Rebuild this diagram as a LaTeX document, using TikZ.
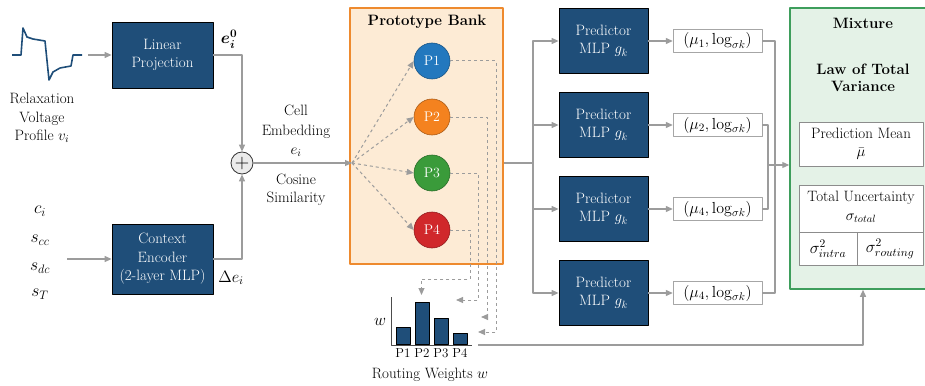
\documentclass[tikz,border=0pt]{standalone}
\usepackage{fix-cm}
\usepackage{amsmath}
\usetikzlibrary{arrows.meta, positioning}

\definecolor{boxblue}{HTML}{1F4E79}
\definecolor{linegray}{HTML}{9C9C9C}
\definecolor{bankfill}{HTML}{FDEBD5}
\definecolor{bankline}{HTML}{EE8A2E}
\definecolor{mixfill}{HTML}{E4F2E7}
\definecolor{mixline}{HTML}{3E9E5C}
\definecolor{pblue}{HTML}{2378BE}
\definecolor{porange}{HTML}{F4821F}
\definecolor{pgreen}{HTML}{3A9B3A}
\definecolor{pred}{HTML}{D0282B}

\begin{document}
\begin{tikzpicture}[x=1pt, y=-1pt, line join=round,
  font=\fontsize{15}{18.5}\selectfont,
  >={Triangle[length=7pt,width=6pt]},
  flow/.style={draw=linegray, line width=1.2pt},
  routing/.style={draw=linegray, line width=1pt, dashed},
  darkbox/.style={draw=black, fill=boxblue, text=white, line width=0.8pt,
    align=center, minimum width=89pt, minimum height=65pt, inner sep=2pt},
  outbox/.style={draw=black!35, fill=white, minimum width=89pt,
    minimum height=23pt, inner sep=1pt, font=\fontsize{16}{18}\selectfont},
  cellbox/.style={draw=black!45, fill=white, align=center, inner sep=1pt},
  mathlbl/.style={font=\fontsize{16.5}{19}\selectfont},
  proto/.style={circle, minimum size=36pt, inner sep=0pt, text=white,
    line width=0.6pt, font=\fontsize{14}{16}\selectfont},
  title/.style={font=\fontsize{15}{17.5}\selectfont\bfseries, align=center}]

  \useasboundingbox (0,0) rectangle (925,385);

  % voltage profile
  \draw[boxblue, line width=1.6pt] plot coordinates {(12,55) (21,55) (23,28)
    (27,37) (33,39) (45,41) (49,80) (53,72) (60,68) (71,66) (73,55) (82,55)};
  \node[align=center] (profile) at (42,118) {Relaxation\\Voltage\\Profile $v_i$};
  \coordinate (wave) at (88,55);

  % encoders
  \node[darkbox, minimum width=101pt, minimum height=66pt] (proj) at (162.5,55) {Linear\\Projection};
  \node[darkbox, minimum width=101pt, minimum height=70pt] (ctx) at (162.5,259) {Context\\Encoder\\(2-layer MLP)};
  \foreach \n/\t/\y in {c/c_i/211, cc/s_{cc}/240, dc/s_{dc}/268, T/s_T/294}
    \node[font=\fontsize{17.5}{19}\selectfont] (in\n) at (40,\y) {$\t$};
  \coordinate (ctxin) at (67,259);
  \draw[flow,->] (wave) -- (proj.west);
  \draw[flow,->] (ctxin) -- (ctx.west);

  % sum
  \node[circle, draw=black!80, fill=black!8, minimum size=22pt, inner sep=0pt,
    line width=0.8pt] (plus) at (242,163) {\fontsize{20}{20}\selectfont$+$};
  \draw[flow,->] (proj.east) -| (plus.north);
  \draw[flow,->] (ctx.east) -| (plus.south);
  \node[mathlbl] (e0) at (229,39) {$\boldsymbol{e_i^0}$};
  \node[mathlbl] (de) at (231,278) {$\Delta e_i$};
  \node[align=center] (cell) at (296,131) {Cell\\[1pt]Embedding\\[1pt]$e_i$};
  \node[align=center] (cosine) at (296,190) {Cosine\\Similarity};

  % prototype bank
  \node[draw=bankline, fill=bankfill, line width=1.5pt, minimum width=153pt,
    minimum height=256pt] (bank) at (426.5,136) {};
  \node[title] (banktitle) at (427,22) {Prototype Bank};
  \coordinate (sim) at (352,163);
  \draw[flow,->] (plus.east) -- (sim);
  \foreach \i/\c/\y in {1/pblue/61, 2/porange/117, 3/pgreen/173, 4/pred/230} {
    \node[proto, fill=\c, draw=\c!70!black] (p\i) at (432,\y) {P\i};
    \draw[routing,->] (sim) -- (p\i.west);
  }

  % routing weights
  \draw[black!70, line width=0.8pt] (391,297) -- (391,345) -- (472,345);
  \foreach \i/\h in {1/17, 2/42, 3/26, 4/11} {
    \node[draw=black, fill=boxblue, minimum width=14pt, minimum height=\h pt,
      inner sep=0pt, anchor=south, line width=0.6pt] (bar\i) at ({384+19*\i},345) {};
    \node[below=2pt of bar\i.south, font=\fontsize{13}{15}\selectfont, inner sep=1pt] (lbl\i) {P\i};
  }
  \node[mathlbl] (waxis) at (380,322) {$w$};
  \node (routw) at (430,375) {Routing Weights $w$};
  \coordinate (tip1) at (478,332);
  \coordinate (tip2) at (481,317);
  \coordinate (tip3) at (456,300);
  \coordinate (tip4) at (421.5,295);
  \draw[routing,->] (p1.east) -- ++(46,0) |- (tip1);
  \draw[routing,->] (p2.east) -- ++(37,0) |- (tip2);
  \draw[routing,->] (p3.east) -- ++(28,0) |- (tip3);
  \draw[routing,->] (p4.east) -- ++(20,0) -- ++(0,49) -| (tip4);

  % predictors
  \coordinate (trunk) at (533,163);
  \draw[flow] (bank.east |- sim) -- (trunk);
  \foreach \k/\y/\m in {1/41/1, 2/125/2, 3/209/4, 4/293/4} {
    \node[darkbox] (pred\k) at (603.5,\y) {Predictor\\MLP $g_k$};
    \node[outbox] (out\k) at (717.5,\y) {$(\mu_{\m}, \log_{\sigma k})$};
    \draw[flow,->] (pred\k) -- (out\k);
    \draw[flow,->] (trunk) |- (pred\k.west);
  }

  % mixture
  \node[draw=mixline, fill=mixfill, line width=1.5pt, minimum width=146pt,
    minimum height=281pt] (mix) at (863,148.5) {};
  \node[title] (mixtitle) at (863,23) {Mixture};
  \node[title] (law) at (863,78) {Law of Total\\Variance};
  \node[cellbox, minimum width=124pt, minimum height=44pt] (mean) at (861,144) {Prediction Mean\\$\bar{\mu}$};
  \node[cellbox, minimum width=124pt, minimum height=80pt] (total) at (861,225) {};
  \node[align=center] (totaltxt) at (861,207) {Total Uncertainty\\$\sigma_{total}$};
  \node[mathlbl] (intra) at (828,249) {$\sigma^2_{intra}$};
  \node[mathlbl] (rout) at (890,249) {$\sigma^2_{routing}$};
  \draw[black!45] (total.west |- 0,232) -- (total.east |- 0,232);
  \draw[black!45] (857,232) -- (857,0 |- total.south);

  \coordinate (mergeA) at (775,165);
  \coordinate (mergeB) at (768,165);
  \draw[flow] (out1.east) -| (mergeA);
  \draw[flow] (out4.east) -| (mergeA);
  \draw[flow] (out2.east) -| (mergeB);
  \draw[flow] (out3.east) -| (mergeB);
  \draw[flow,->] (mergeB) -- (mix.west |- mergeB);

  \coordinate (wout) at (478,345);
  \draw[flow,->] (wout) -| (mix.south);

\end{tikzpicture}
\end{document}
